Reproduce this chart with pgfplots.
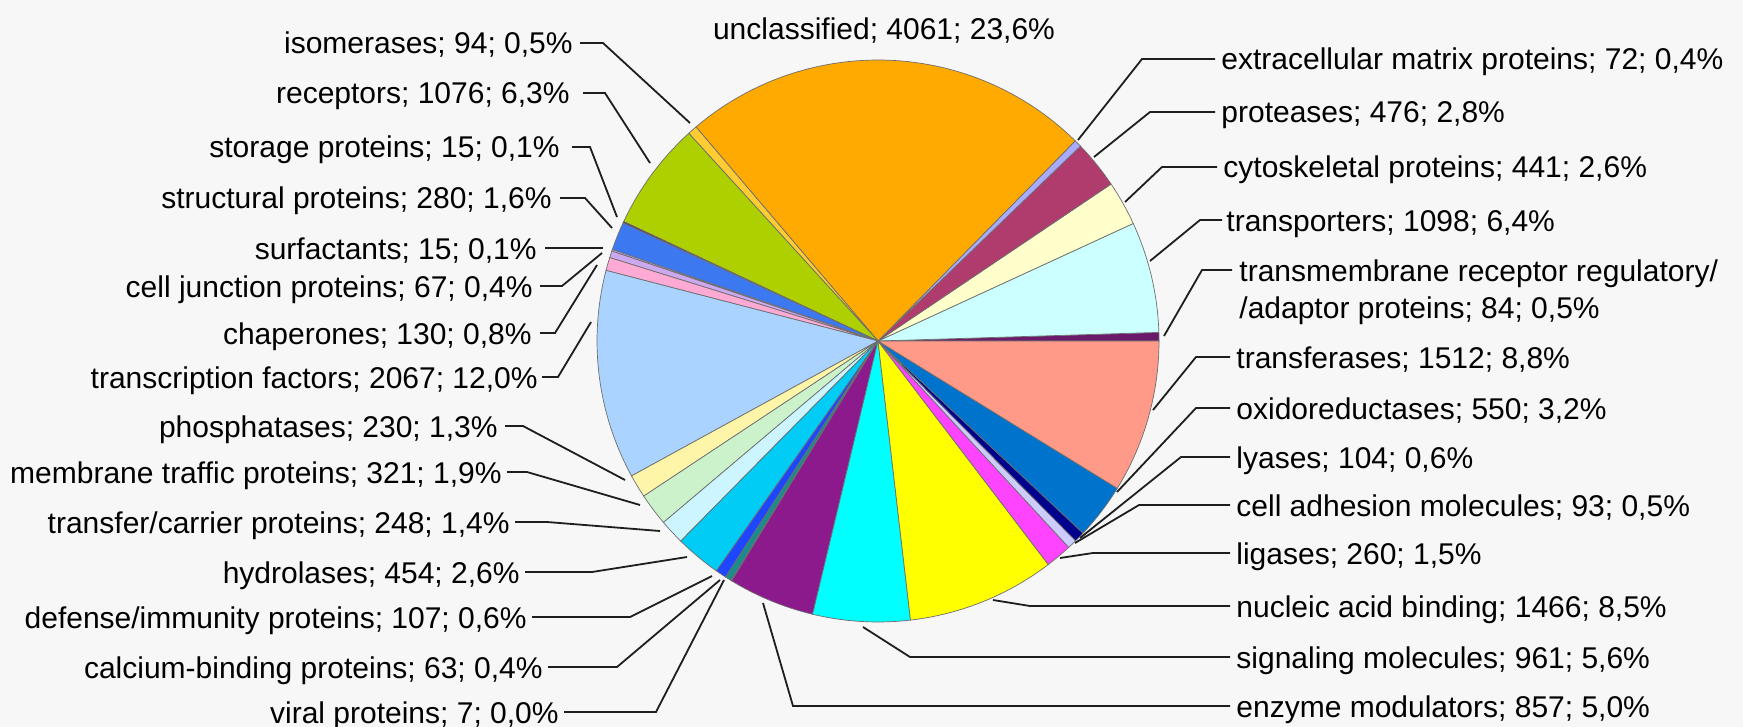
\documentclass[border=0pt]{standalone}
\usepackage{pgfplots}
\pgfplotsset{compat=1.18}
\usepackage{fontspec}
\setmainfont{Liberation Sans}
\definecolor{bg}{HTML}{F7F7F7}
\definecolor{edgecol}{HTML}{6E6E6E}
\definecolor{leadcol}{HTML}{1E1E1E}
\definecolor{cUnc}{HTML}{FFAA00}
\definecolor{cIso}{HTML}{FFCC33}
\definecolor{cRec}{HTML}{AECF00}
\definecolor{cSto}{HTML}{4B1F6F}
\definecolor{cStr}{HTML}{3C78F0}
\definecolor{cSur}{HTML}{E0B0FF}
\definecolor{cJun}{HTML}{CCA8F0}
\definecolor{cCha}{HTML}{FFAAD4}
\definecolor{cTF}{HTML}{AAD4FF}
\definecolor{cPho}{HTML}{FFF5A8}
\definecolor{cMem}{HTML}{CCF2CC}
\definecolor{cTra}{HTML}{CCF5FF}
\definecolor{cHyd}{HTML}{00CCF5}
\definecolor{cDef}{HTML}{1E46FF}
\definecolor{cCal}{HTML}{1A8C8C}
\definecolor{cVir}{HTML}{2F8F6F}
\definecolor{cEnz}{HTML}{8C1A8C}
\definecolor{cSig}{HTML}{00FFFF}
\definecolor{cNuc}{HTML}{FFFF00}
\definecolor{cLig}{HTML}{FF44FF}
\definecolor{cAdh}{HTML}{CCCCFF}
\definecolor{cLya}{HTML}{00008C}
\definecolor{cOxi}{HTML}{0073CC}
\definecolor{cTrf}{HTML}{FF9988}
\definecolor{cTmb}{HTML}{6B1A6B}
\definecolor{cTsp}{HTML}{CCFFFF}
\definecolor{cCyt}{HTML}{FFFFCC}
\definecolor{cPro}{HTML}{B03C6E}
\definecolor{cECM}{HTML}{AAAAFF}
\newcommand\lab{\fontsize{15pt}{18.5pt}\selectfont}
% pie: centre (878,341) px, radius 281 px, total of the counts 17209
\def\cang{0}
\newcommand\slice[2]{%
  \pgfmathsetmacro\sa{\cang}%
  \pgfmathsetmacro\sb{\cang+#1/172.09*3.6}%
  \xdef\cang{\sb}%
  \pgfmathtruncatemacro\nsamp{max(2,(\sb-\sa)/1.5+2)}%
  \edef\doslice{\noexpand\addplot[fill=#2, draw=edgecol, line width=0.35pt, domain=\sa:\sb, samples=\nsamp, variable=\noexpand\t] ({878+281*cos(\noexpand\t)},{341-281*sin(\noexpand\t)}) -- (878,341) -- cycle;}%
  \doslice}
\begin{document}
\begin{tikzpicture}
\useasboundingbox (0,0) rectangle (871.5pt,363.5pt);
\fill[bg] (0,0) rectangle (871.5pt,363.5pt);
\begin{axis}[at={(0,0)}, anchor=south west, scale only axis,
  width=871.5pt, height=363.5pt,
  xmin=0, xmax=1743, ymin=0, ymax=727, y dir=reverse,
  hide axis, clip=false]
\slice{84}{cTmb}
\slice{1098}{cTsp}
\slice{441}{cCyt}
\slice{476}{cPro}
\slice{72}{cECM}
\slice{4061}{cUnc}
\slice{94}{cIso}
\slice{1076}{cRec}
\slice{15}{cSto}
\slice{280}{cStr}
\slice{15}{cSur}
\slice{67}{cJun}
\slice{130}{cCha}
\slice{2067}{cTF}
\slice{230}{cPho}
\slice{321}{cMem}
\slice{248}{cTra}
\slice{454}{cHyd}
\slice{107}{cDef}
\slice{63}{cCal}
\slice{7}{cVir}
\slice{857}{cEnz}
\slice{961}{cSig}
\slice{1466}{cNuc}
\slice{260}{cLig}
\slice{93}{cAdh}
\slice{104}{cLya}
\slice{550}{cOxi}
\slice{1512}{cTrf}
% leader lines
\begin{scope}[draw=leadcol, line width=0.9pt]
\draw (580,43) -- (603,43) -- (690,123);
\draw (583,93) -- (605,93) -- (650,163);
\draw (572,147) -- (590,147) -- (617,217);
\draw (560,198) -- (585,198) -- (612,228);
\draw (545,248) -- (603,248);
\draw (540,286) -- (562,286) -- (602,253);
\draw (540,333) -- (555,333) -- (597,265);
\draw (542,377) -- (558,377) -- (591,322);
\draw (505,426) -- (523,426) -- (625,480);
\draw (507,472) -- (527,472) -- (640,505);
\draw (515,522) -- (547,522) -- (660,531);
\draw (525,572) -- (592,572) -- (687,557);
\draw (532,617) -- (630,617) -- (712,576);
\draw (548,667) -- (617,667) -- (720,580);
\draw (564,712) -- (656,712) -- (724,580);
\draw (1215,59) -- (1142,59) -- (1078,140);
\draw (1215,112) -- (1150,112) -- (1094,157);
\draw (1217,167) -- (1162,167) -- (1125,202);
\draw (1222,220) -- (1200,220) -- (1150,261);
\draw (1232,270) -- (1202,270) -- (1164,336);
\draw (1230,357) -- (1196,357) -- (1153,410);
\draw (1230,408) -- (1196,408) -- (1117,492);
\draw (1230,457) -- (1181,457) -- (1080,538);
\draw (1230,505) -- (1139,505) -- (1075,543);
\draw (1230,553) -- (1093,553) -- (1060,558);
\draw (1230,606) -- (1030,606) -- (993,600);
\draw (1230,657) -- (910,657) -- (863,627);
\draw (1230,706) -- (793,706) -- (763,603);
\end{scope}
% labels
\begin{scope}[every node/.style={font=\lab, inner sep=0pt, text=black}]
\node[anchor=base] at (884,40) {unclassified; 4061; 23,6\%};
\node[anchor=base east] at (573,54) {isomerases; 94; 0,5\%};
\node[anchor=base east] at (570,104) {receptors; 1076; 6,3\%};
\node[anchor=base east] at (560,158) {storage proteins; 15; 0,1\%};
\node[anchor=base east] at (552,209) {structural proteins; 280; 1,6\%};
\node[anchor=base east] at (537,259) {surfactants; 15; 0,1\%};
\node[anchor=base east] at (533,297) {cell junction proteins; 67; 0,4\%};
\node[anchor=base east] at (532,344) {chaperones; 130; 0,8\%};
\node[anchor=base east] at (538,388) {transcription factors; 2067; 12,0\%};
\node[anchor=base east] at (498,437) {phosphatases; 230; 1,3\%};
\node[anchor=base east] at (502,483) {membrane traffic proteins; 321; 1,9\%};
\node[anchor=base east] at (510,533) {transfer/carrier proteins; 248; 1,4\%};
\node[anchor=base east] at (520,583) {hydrolases; 454; 2,6\%};
\node[anchor=base east] at (527,628) {defense/immunity proteins; 107; 0,6\%};
\node[anchor=base east] at (543,678) {calcium-binding proteins; 63; 0,4\%};
\node[anchor=base east] at (559,723) {viral proteins; 7; 0,0\%};
\node[anchor=base west] at (1221,70) {extracellular matrix proteins; 72; 0,4\%};
\node[anchor=base west] at (1221,123) {proteases; 476; 2,8\%};
\node[anchor=base west] at (1223,178) {cytoskeletal proteins; 441; 2,6\%};
\node[anchor=base west] at (1226,231) {transporters; 1098; 6,4\%};
\node[anchor=base west] at (1239,281) {transmembrane receptor regulatory/};
\node[anchor=base west] at (1239,318) {/adaptor proteins; 84; 0,5\%};
\node[anchor=base west] at (1236,368) {transferases; 1512; 8,8\%};
\node[anchor=base west] at (1236,419) {oxidoreductases; 550; 3,2\%};
\node[anchor=base west] at (1236,468) {lyases; 104; 0,6\%};
\node[anchor=base west] at (1236,516) {cell adhesion molecules; 93; 0,5\%};
\node[anchor=base west] at (1236,564) {ligases; 260; 1,5\%};
\node[anchor=base west] at (1236,617) {nucleic acid binding; 1466; 8,5\%};
\node[anchor=base west] at (1236,668) {signaling molecules; 961; 5,6\%};
\node[anchor=base west] at (1236,717) {enzyme modulators; 857; 5,0\%};
\end{scope}
\end{axis}
\end{tikzpicture}
\end{document}
